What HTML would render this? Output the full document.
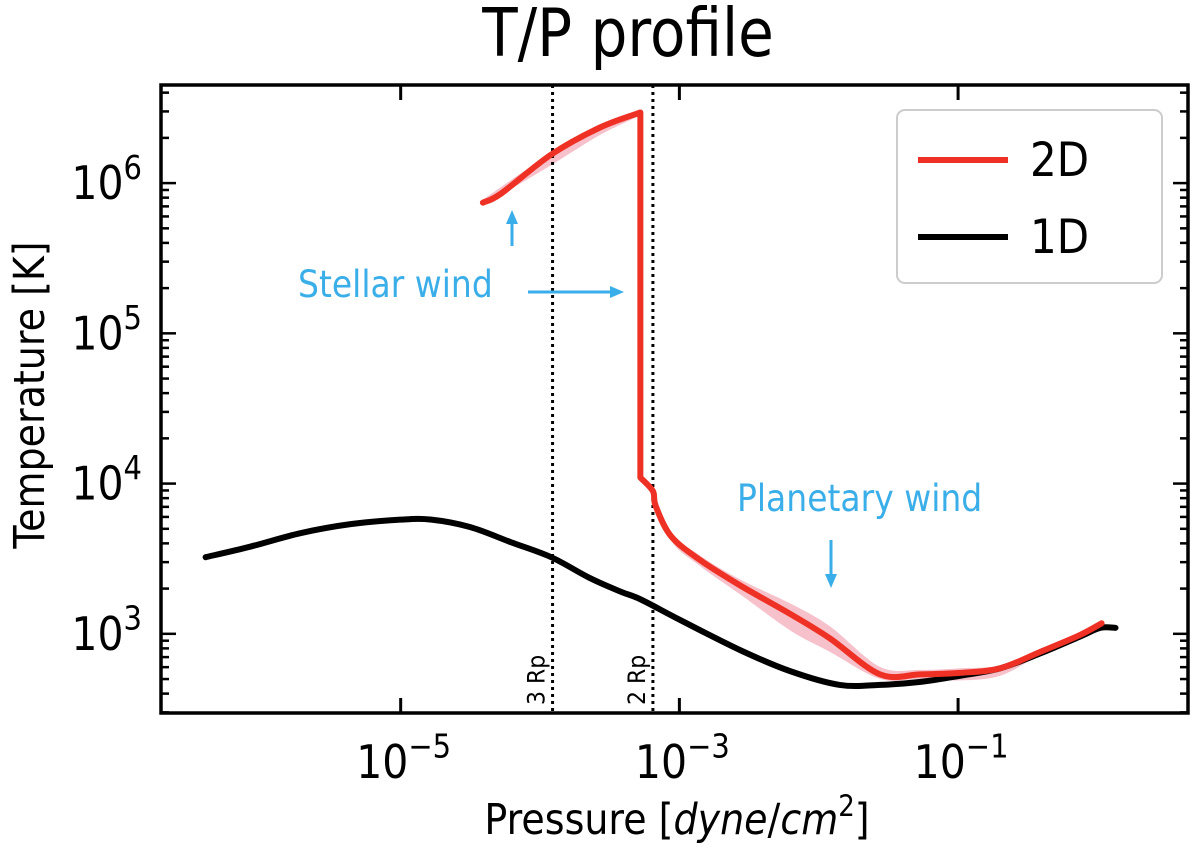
<!DOCTYPE html>
<html><head><meta charset="utf-8"><style>
body{margin:0;background:#fff}
svg{font-family:"DejaVu Sans","Liberation Sans",sans-serif}
</style></head><body>
<svg id="chart" width="1200" height="850" viewBox="0 0 1200 850" xmlns="http://www.w3.org/2000/svg">
<text transform="translate(628,56) scale(1,1.15)" font-size="58" text-anchor="middle">T/P profile</text>
<g id="plot"></g>
<text transform="translate(677,834) scale(1,1.13)" font-size="38" text-anchor="middle">Pressure [<tspan font-style="italic">dyne</tspan>/<tspan font-style="italic">cm</tspan><tspan font-size="26" dy="-16">2</tspan><tspan dy="16">]</tspan></text>
<text transform="translate(44,395) rotate(-90) scale(1.0,1.13)" font-size="38" text-anchor="middle">Temperature [K]</text>
</svg>
<script>
const blackLogP=[-6.40,-6.08,-5.72,-5.36,-5.00,-4.78,-4.50,-4.21,-3.92,-3.64,-3.42,-3.28,-2.99,-2.56,-2.20,-1.85,-1.56,-1.27,-0.99,-0.70,-0.41,-0.13,0.02,0.13];
const blackLogT=[3.51,3.58,3.67,3.73,3.76,3.76,3.71,3.61,3.51,3.37,3.28,3.23,3.09,2.89,2.75,2.66,2.66,2.68,2.72,2.77,2.87,2.98,3.04,3.04];
const redLogP=[-4.41,-4.28,-3.92,-3.57,-3.28,-3.28,-3.19,-3.17,-3.06,-2.85,-2.56,-2.20,-1.92,-1.56,-1.27,-0.99,-0.70,-0.41,-0.13,0.03];
const redLogT=[5.87,5.93,6.19,6.37,6.47,4.04,3.95,3.85,3.65,3.49,3.32,3.13,2.97,2.73,2.73,2.74,2.77,2.88,2.99,3.07];
const bandLogP=[-4.41,-3.92,-3.57,-3.28,-3.19,-3.06,-2.85,-2.56,-2.20,-1.92,-1.56,-1.27,-0.99,-0.70,-0.41,0.03];
const bandLo=[5.85,6.12,6.32,6.45,3.93,3.62,3.45,3.26,3.02,2.88,2.70,2.70,2.69,2.72,2.86,3.06];
const bandHi=[5.89,6.20,6.38,6.48,3.97,3.68,3.52,3.36,3.20,3.05,2.78,2.76,2.77,2.79,2.89,3.08];
const rpLines=[-3.91,-3.19], rpLabels=["3 Rp","2 Rp"];
const xTicks=[-5,-3,-1], yTicks=[3,4,5,6];
const xMin=-6.72,xMax=0.65,yMin=2.473,yMax=6.653;
const L=161,R=1188,T=85,B=713;
const X=v=>L+(v-xMin)/(xMax-xMin)*(R-L);
const Y=v=>B-(v-yMin)/(yMax-yMin)*(B-T);
const NS="http://www.w3.org/2000/svg";
const g=document.getElementById('plot');
function mk(tag,attrs){const e=document.createElementNS(NS,tag);for(const k in attrs)e.setAttribute(k,attrs[k]);g.appendChild(e);return e;}
function smooth(pts,move){
 let d=(move?'M':'L')+pts[0][0]+','+pts[0][1];
 for(let i=0;i<pts.length-1;i++){
  const p0=pts[Math.max(0,i-1)],p1=pts[i],p2=pts[i+1],p3=pts[Math.min(pts.length-1,i+2)];
  const c1=[p1[0]+(p2[0]-p0[0])/6,p1[1]+(p2[1]-p0[1])/6],c2=[p2[0]-(p3[0]-p1[0])/6,p2[1]-(p3[1]-p1[1])/6];
  d+=` C${c1[0]},${c1[1]} ${c2[0]},${c2[1]} ${p2[0]},${p2[1]}`;
 }
 return d;
}
// band: split where temperature drops sharply
let bs=bandLo.findIndex((v,i)=>i>0&&bandLo[i-1]-v>1);
if(bs<0)bs=bandLo.length;
[[0,bs],[bs,bandLo.length]].forEach(([a,b],k)=>{
 if(b-a<2)return;
 const hi=bandLogP.slice(a,b).map((p,i)=>[X(p),Y(bandHi[a+i])]);
 const lo=bandLogP.slice(a,b).map((p,i)=>[X(p),Y(bandLo[a+i])]).reverse();
 const band=mk('path',{d:smooth(hi,true)+smooth(lo,false)+'Z',fill:'#f4b6c2',opacity:0.85});
 
 
});
rpLines.forEach((p,i)=>{
 const l=mk('line',{x1:X(p),x2:X(p),y1:T,y2:B,stroke:'#000','stroke-width':3,'stroke-dasharray':'3,4'});
 
 
 const t=mk('text',{transform:`translate(${X(p)-8},${B-8}) rotate(-90) scale(1,1.1)`,'font-size':22});
 t.textContent=rpLabels[i];
 
 
});
const st={fill:'none','stroke-width':6,'stroke-linejoin':'round','stroke-linecap':'round'};
const bPts=blackLogP.map((p,i)=>[X(p),Y(blackLogT[i])]);
const bl=mk('path',Object.assign({d:smooth(bPts,true),stroke:'#000'},st));


let drop=redLogP.findIndex((p,i)=>i>0&&p===redLogP[i-1]);
const rPts=redLogP.map((p,i)=>[X(p),Y(redLogT[i])]);
let rd=drop>0?smooth(rPts.slice(0,drop),true)+smooth(rPts.slice(drop),false):smooth(rPts,true);
const rl=mk('path',Object.assign({d:rd,stroke:'#ee3124'},st));


const fr=mk('rect',{x:L,y:T,width:R-L,height:B-T,fill:'none',stroke:'#000','stroke-width':3.5});


xTicks.forEach(v=>{
 mk('line',{x1:X(v),x2:X(v),y1:B,y2:B-15,stroke:'#000','stroke-width':3});
 mk('line',{x1:X(v),x2:X(v),y1:T,y2:T+15,stroke:'#000','stroke-width':3});
 const t=mk('text',{transform:`translate(${X(v)+3},${B+65}) scale(1,1.13)`,'font-size':41,'text-anchor':'middle'});
 t.innerHTML='10<tspan font-size="29" dy="-18">\u2212'+(-v)+'</tspan>';
 
 
});
for(let d=2;d<=6;d++){for(let m=1;m<10;m++){const v=d+Math.log10(m);if(v<yMin||v>yMax)continue;const len=m==1?15:8;
 mk('line',{x1:L,x2:L+len,y1:Y(v),y2:Y(v),stroke:'#000','stroke-width':2.5});
 mk('line',{x1:R,x2:R-len,y1:Y(v),y2:Y(v),stroke:'#000','stroke-width':2.5});}}
yTicks.forEach(v=>{
 const t=mk('text',{transform:`translate(142,${Y(v)+16}) scale(1,1.13)`,'font-size':41,'text-anchor':'end'});
 t.innerHTML='10<tspan font-size="29" dy="-18">'+v+'</tspan>';
 
 
});
</script>
<svg style="position:absolute;left:0;top:0" width="1200" height="850">
<g font-family="DejaVu Sans,Liberation Sans,sans-serif">
<rect x="897" y="110" width="265" height="173" rx="8" fill="#fff" fill-opacity="0.8" stroke="#ccc" stroke-width="2"/>
<line x1="918" y1="160" x2="1008" y2="160" stroke="#ee3124" stroke-width="6"/>
<text transform="translate(1030,176) scale(1,1.13)" font-size="42">2D</text>
<line x1="918" y1="237" x2="1008" y2="237" stroke="#000" stroke-width="6"/>
<text transform="translate(1030,253) scale(1,1.13)" font-size="42">1D</text>
</g>
<g fill="#3aaee8" stroke="#3aaee8" font-family="DejaVu Sans,Liberation Sans,sans-serif">
<text transform="translate(298,297) scale(1,1.13)" font-size="33" stroke="none">Stellar wind</text>
<line x1="512" y1="246" x2="512" y2="222" stroke-width="3"/><polygon points="506,224 518,224 512,210" stroke="none"/>
<line x1="528" y1="292" x2="612" y2="292" stroke-width="3"/><polygon points="610,286 610,298 624,292" stroke="none"/>
<text transform="translate(737,511) scale(1,1.13)" font-size="33" stroke="none">Planetary wind</text>
<line x1="831" y1="540" x2="831" y2="576" stroke-width="3"/><polygon points="825,574 837,574 831,588" stroke="none"/>
</g>
</svg>
</body></html>
